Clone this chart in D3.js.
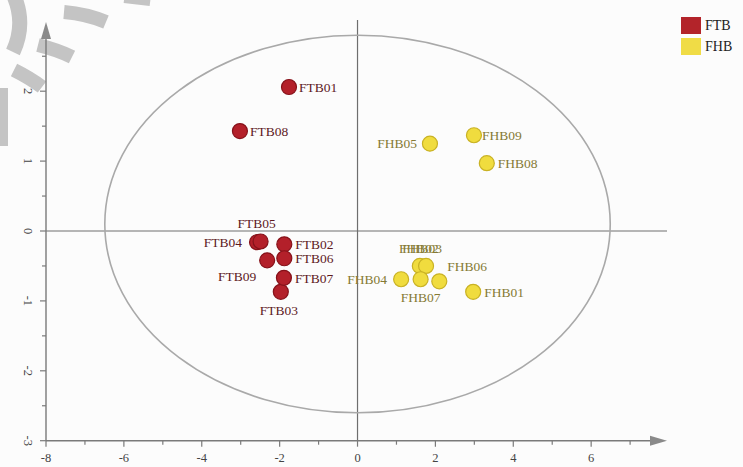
<!DOCTYPE html>
<html>
<head>
<meta charset="utf-8">
<script src="https://cdn.jsdelivr.net/npm/d3@7"></script>
<style>
  html, body { margin: 0; padding: 0; background: #fcfcfc; }
  svg { display: block; }
</style>
</head>
<body>
<svg id="chart" width="743" height="467"></svg>
<script>
// Score plot: FTB vs FHB samples on the first two components
const groups = ["FTB", "FHB"];

const ftbNames = ["FTB01", "FTB02", "FTB03", "FTB04", "FTB05", "FTB06", "FTB07", "FTB08", "FTB09"];
const ftbX = [-1.76, -1.88, -1.97, -2.58, -2.49, -1.88, -1.89, -3.02, -2.32];
const ftbY = [2.06, -0.19, -0.87, -0.16, -0.15, -0.39, -0.67, 1.43, -0.42];

const fhbNames = ["FHB01", "FHB02", "FHB03", "FHB04", "FHB05", "FHB06", "FHB07", "FHB08", "FHB09"];
const fhbX = [2.97, 1.60, 1.76, 1.12, 1.86, 2.10, 1.62, 3.32, 2.99];
const fhbY = [-0.87, -0.50, -0.50, -0.69, 1.25, -0.72, -0.69, 0.97, 1.37];

const xTickLabels = [-8, -6, -4, -2, 0, 2, 4, 6];
const yTickLabels = [-3, -2, -1, 0, 1, 2];

// confidence ellipse (centre and semi-axes in score units)
const ellipseCenter = [0, 0.1];
const ellipseRadii = [6.49, 2.70];

// label placement around each point: [dx, dy, anchor]
const labelPlace = {
  FTB01: [10, 0, "start"], FTB02: [11, 0, "start"], FTB03: [-2, 18, "middle"],
  FTB04: [-15, 0, "end"], FTB05: [-4, -18, "middle"], FTB06: [11, 0, "start"],
  FTB07: [11, 0, "start"], FTB08: [10, 0, "start"], FTB09: [-11, 16, "end"],
  FHB01: [11, 0, "start"], FHB02: [-1, -18, "middle"], FHB03: [-4, -18, "middle"],
  FHB04: [-14, 0, "end"], FHB05: [-13, 0, "end"], FHB06: [8, -15, "start"],
  FHB07: [0, 18, "middle"], FHB08: [11, 0, "start"], FHB09: [8, 0, "start"]
};

const styles = {
  FTB: { fill: "#b3202a", stroke: "#86121a", text: "#5e1a1e", legend: "#b3242a" },
  FHB: { fill: "#f0dc3e", stroke: "#c9b224", text: "#857a34", legend: "#f0dc46" }
};

const svg = d3.select("#chart");

const x = d3.scaleLinear().domain([-8, 6]).range([46, 46 + 14 * 38.94]);
const y = d3.scaleLinear().domain([-3, 2]).range([440.7, 91.2]);

const axisColor = "#7a7a7a";
const xEnd = 667, yTop = 22;

// light grey overlay arcs in the top-left corner
const deco = svg.append("g").attr("fill", "none").attr("stroke", "#c4c4c4").attr("stroke-linecap", "butt");
[
  ["M14,-4 Q26,24 13,52", 15],
  ["M64,12 Q87,14 106,22", 14],
  ["M38,45 Q58,50 72,57", 14],
  ["M14,70 Q30,78 42,87", 14],
  ["M2,88 L2,146", 12],
  ["M124,0 L150,3", 6]
].forEach(([d, w]) => deco.append("path").attr("d", d).attr("stroke-width", w));

// origin cross-hairs
svg.append("line")
  .attr("x1", x(0)).attr("x2", x(0)).attr("y1", 20).attr("y2", y(-3))
  .attr("stroke", "#6e6e6e").attr("stroke-width", 1.2);
svg.append("line")
  .attr("x1", x(-8)).attr("x2", xEnd).attr("y1", y(0)).attr("y2", y(0))
  .attr("stroke", "#6e6e6e").attr("stroke-width", 1.2);

// ellipse
svg.append("ellipse")
  .attr("cx", x(ellipseCenter[0])).attr("cy", y(ellipseCenter[1]))
  .attr("rx", x(ellipseRadii[0]) - x(0)).attr("ry", y(0) - y(ellipseRadii[1]))
  .attr("fill", "none").attr("stroke", "#a9a9a9").attr("stroke-width", 1.6);

// x axis
const gx = svg.append("g");
gx.append("line").attr("x1", x(-8)).attr("x2", xEnd - 10).attr("y1", y(-3)).attr("y2", y(-3))
  .attr("stroke", axisColor).attr("stroke-width", 1.4);
gx.append("path")
  .attr("d", `M${xEnd - 17},${y(-3) - 5} L${xEnd},${y(-3)} L${xEnd - 17},${y(-3) + 5} Z`)
  .attr("fill", "#8a8a8a");
gx.selectAll("line.tick").data(d3.range(-8, 8, 1)).join("line")
  .attr("class", "tick")
  .attr("x1", d => x(d)).attr("x2", d => x(d))
  .attr("y1", y(-3)).attr("y2", d => y(-3) + (d % 2 === 0 ? 6 : 4))
  .attr("stroke", axisColor).attr("stroke-width", 1.2);
gx.selectAll("text").data(xTickLabels).join("text")
  .attr("x", d => x(d)).attr("y", y(-3) + 21)
  .attr("text-anchor", "middle")
  .attr("font-family", "Liberation Serif, serif").attr("font-size", 12.5)
  .attr("fill", "#444")
  .text(d => d);

// y axis
const gy = svg.append("g");
gy.append("line").attr("x1", x(-8)).attr("x2", x(-8)).attr("y1", y(-3)).attr("y2", yTop + 10)
  .attr("stroke", axisColor).attr("stroke-width", 1.4);
gy.append("path")
  .attr("d", `M${x(-8) - 5},${yTop + 17} L${x(-8)},${yTop} L${x(-8) + 5},${yTop + 17} Z`)
  .attr("fill", "#8a8a8a");
gy.selectAll("line.tick").data(d3.range(-3, 2.75, 0.5)).join("line")
  .attr("class", "tick")
  .attr("x1", d => x(-8) - (Number.isInteger(d) ? 6 : 4)).attr("x2", x(-8))
  .attr("y1", d => y(d)).attr("y2", d => y(d))
  .attr("stroke", axisColor).attr("stroke-width", 1.2);
gy.selectAll("text").data(yTickLabels).join("text")
  .attr("transform", d => `translate(24,${y(d)}) rotate(90)`)
  .attr("text-anchor", "middle")
  .attr("font-family", "Liberation Serif, serif").attr("font-size", 12.5)
  .attr("fill", "#444")
  .text(d => d);

// points and labels
function drawGroup(key, names, xs, ys) {
  const st = styles[key];
  const data = names.map((n, i) => ({ name: n, x: xs[i], y: ys[i] }));
  const g = svg.append("g");
  g.selectAll("circle").data(data).join("circle")
    .attr("cx", d => x(d.x)).attr("cy", d => y(d.y)).attr("r", 7.5)
    .attr("fill", st.fill).attr("stroke", st.stroke).attr("stroke-width", 1.2);
  g.selectAll("text").data(data).join("text")
    .attr("x", d => x(d.x) + labelPlace[d.name][0])
    .attr("y", d => y(d.y) + labelPlace[d.name][1])
    .attr("dy", "0.35em")
    .attr("text-anchor", d => labelPlace[d.name][2])
    .attr("font-family", "Liberation Serif, serif").attr("font-size", 13.5)
    .attr("fill", st.text)
    .text(d => d.name);
}
drawGroup("FTB", ftbNames, ftbX, ftbY);
drawGroup("FHB", fhbNames, fhbX, fhbY);

// legend
const lg = svg.append("g").attr("transform", "translate(681,17)");
groups.forEach((gname, i) => {
  lg.append("rect").attr("x", 0).attr("y", i * 21).attr("width", 20).attr("height", 17)
    .attr("fill", styles[gname].legend);
  lg.append("text").attr("x", 24).attr("y", i * 21 + 8.5).attr("dy", "0.35em")
    .attr("font-family", "Liberation Serif, serif").attr("font-size", 14)
    .attr("fill", "#222").text(gname);
});
</script>
</body>
</html>
